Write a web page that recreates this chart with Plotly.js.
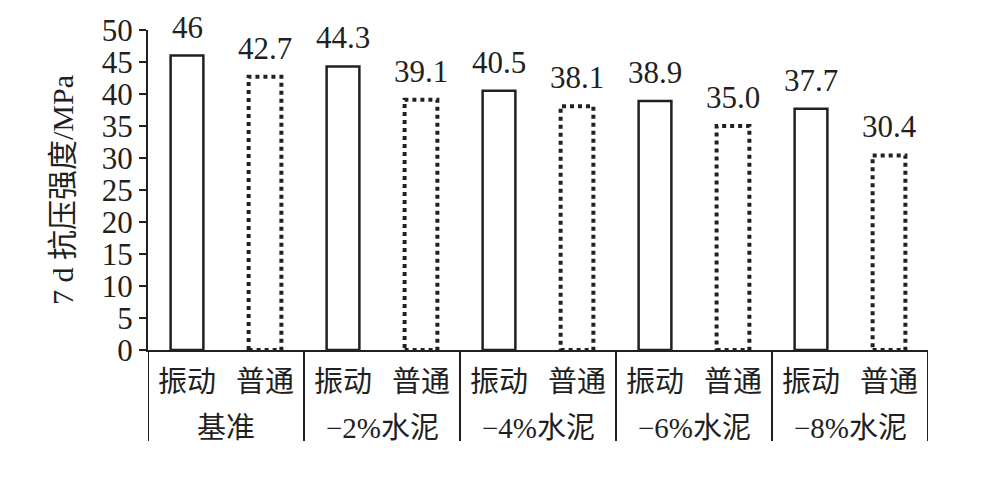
<!DOCTYPE html>
<html>
<head>
<meta charset="utf-8">
<script src="https://cdn.plot.ly/plotly-3.0.1.min.js"></script>
<style>
  html, body { margin: 0; padding: 0; background: #fff; }
  #chart { width: 1006px; height: 480px; }
</style>
</head>
<body>
<div id="chart"></div>
<script>
// mix groups and the two compaction methods
const groups = ["基准", "−2%水泥", "−4%水泥", "−6%水泥", "−8%水泥"];
const methods = ["振动", "普通"];
const vibrated = [46, 44.3, 40.5, 38.9, 37.7];
const normal = [42.7, 39.1, 38.1, 35.0, 30.4];
const vibratedLabels = ["46", "44.3", "40.5", "38.9", "37.7"];
const normalLabels = ["42.7", "39.1", "38.1", "35.0", "30.4"];

const ink = "#231f20";
const font = "Liberation Serif, Noto Sans CJK SC, serif";
const barWidth = 0.42;

// interleave: each group gets 振动 then 普通 at consecutive slots
const xPos = [], xText = [], yVals = [], yLabels = [], lineW = [], isNormal = [];
groups.forEach((g, i) => {
  xPos.push(2 * i, 2 * i + 1);
  xText.push(methods[0], methods[1]);
  yVals.push(vibrated[i], normal[i]);
  yLabels.push(vibratedLabels[i], normalLabels[i]);
  lineW.push(2.5, 0);
  isNormal.push(false, true);
});

const data = [
  {
    type: "bar",
    x: xPos,
    y: yVals,
    width: barWidth,
    marker: {
      color: "rgba(255,255,255,0)",
      line: { color: ink, width: lineW },
    },
    hoverinfo: "y",
  },
];

// dotted outline for the 普通 bars (bar lines can't be dashed)
const shapes = [];
xPos.forEach((x, i) => {
  if (!isNormal[i]) return;
  shapes.push({
    type: "rect",
    xref: "x",
    yref: "y",
    x0: x - barWidth / 2,
    x1: x + barWidth / 2,
    y0: 0,
    y1: yVals[i],
    line: { color: ink, width: 4, dash: "dot" },
    fillcolor: "rgba(0,0,0,0)",
    layer: "above",
  });
});

// group dividers hanging below the axis
for (let g = 0; g <= groups.length; g++) {
  shapes.push({
    type: "line",
    xref: "x",
    yref: "paper",
    ysizemode: "pixel",
    yanchor: 0,
    x0: 2 * g - 0.5,
    x1: 2 * g - 0.5,
    y0: 0,
    y1: -91,
    line: { color: ink, width: 2 },
  });
}

const annotations = yVals.map((v, i) => ({
  xref: "x",
  yref: "y",
  x: xPos[i],
  y: v,
  text: yLabels[i],
  showarrow: false,
  yanchor: "bottom",
  yshift: 9,
  font: { family: font, size: 31, color: ink },
}));

groups.forEach((g, i) => {
  annotations.push({
    xref: "x",
    yref: "paper",
    x: 2 * i + 0.5,
    y: 0,
    yanchor: "middle",
    yshift: -78,
    text: g,
    showarrow: false,
    font: { family: font, size: 29, color: ink },
  });
});

const layout = {
  width: 1006,
  height: 480,
  margin: { l: 148, r: 78, t: 30, b: 130 },
  paper_bgcolor: "#fff",
  plot_bgcolor: "#fff",
  showlegend: false,
  font: { family: font, size: 29, color: ink },
  xaxis: {
    range: [-0.5, 2 * groups.length - 0.5],
    tickmode: "array",
    tickvals: xPos,
    ticktext: xText,
    showline: true,
    linecolor: ink,
    linewidth: 2,
    ticks: "",
    showgrid: false,
    zeroline: false,
    tickfont: { family: font, size: 29, color: ink },
    ticklabelstandoff: 5,
    fixedrange: true,
  },
  yaxis: {
    range: [0, 50],
    dtick: 5,
    showline: true,
    linecolor: ink,
    linewidth: 2,
    ticks: "outside",
    ticklen: 7,
    tickwidth: 2,
    tickcolor: ink,
    showgrid: false,
    zeroline: false,
    tickfont: { family: font, size: 31, color: ink },
    title: {
      text: "7 d 抗压强度/MPa",
      font: { family: font, size: 30, color: ink },
      standoff: 19,
    },
    fixedrange: true,
  },
  shapes: shapes,
  annotations: annotations,
};

Plotly.newPlot("chart", data, layout, { displayModeBar: false, staticPlot: true });
</script>
</body>
</html>
